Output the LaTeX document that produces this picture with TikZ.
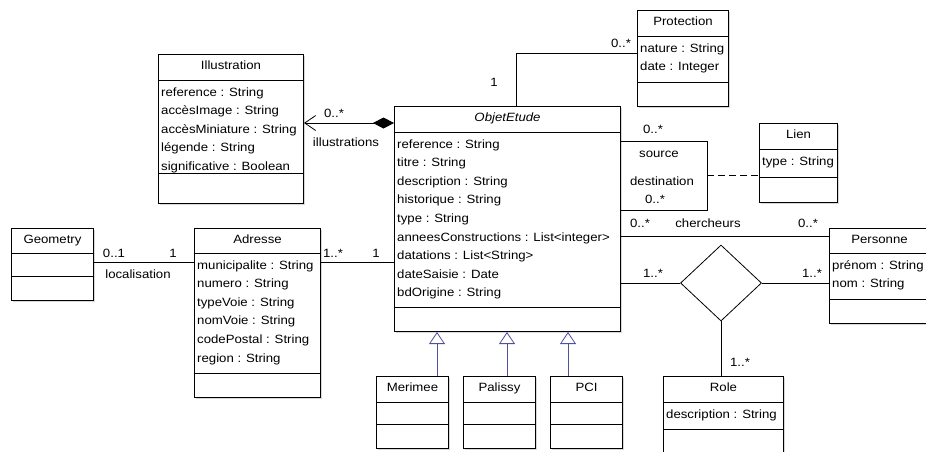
\documentclass[tikz,border=0pt]{standalone}
\usepackage{fontspec}
\setmainfont{Liberation Sans}[FakeStretch=1.1]
\usetikzlibrary{arrows.meta, shapes.geometric, shadows}
\definecolor{genblue}{RGB}{80,80,160}

\tikzset{
  umlbox/.style={draw, fill=white, line width=1pt, anchor=north west, inner sep=0pt,
    drop shadow={shadow xshift=1.5pt, shadow yshift=-1.5pt, fill=black!30}},
  title/.style={anchor=base, inner sep=0pt},
  attr/.style={anchor=base west, inner sep=0pt},
  mult/.style={anchor=base, inner sep=0pt},
  assoc/.style={line width=0.8pt},
  comp/.style={line width=0.8pt, {Diamond[length=21pt, width=11pt]}-{Straight Barb[length=11pt, width=15pt, line width=0.8pt]}},
  generalise/.style={draw=genblue, line width=0.8pt, -{Triangle[open, length=12pt, width=16pt, fill=white]}}
}

% name, x, y, width, title h, attribute h, operation h, title, attributes
\newcommand{\umlclass}[9]{%
  \node[umlbox, minimum width=#4, minimum height=#5+#6+#7] (#1) at (#2,#3) {};
  \draw[line width=1pt] ([yshift=-#5]#1.north west) -- ([yshift=-#5]#1.north east);
  \draw[line width=1pt] ([yshift=-#5-#6]#1.north west) -- ([yshift=-#5-#6]#1.north east);
  \node[title] (#1-t) at ([yshift=-15]#1.north) {#8};
  \foreach \a [count=\i] in {#9}
    \node[attr] (#1-a\i) at ([xshift=3, yshift=-#5-16-(\i-1)*18.6]#1.north west) {\a};
}

\begin{document}
\begin{tikzpicture}[x=1pt, y=-1pt, font=\fontsize{12}{14}\selectfont]
    \useasboundingbox[fill=white] (0,0) rectangle (926,451);

    %define the classes
    \umlclass{illus}{158}{54}{145}{26}{93}{30}{Illustration}{reference : String,accèsImage : String,accèsMiniature : String,légende : String,significative : Boolean}
    \umlclass{objet}{394}{106}{226}{26}{175}{24}{\itshape ObjetEtude}{reference : String,titre : String,description : String,historique : String,type : String,anneesConstructions : List<integer>,datations : List<String>,dateSaisie : Date,bdOrigine : String}
    \umlclass{prot}{637}{10}{91}{26}{46}{24}{Protection}{nature : String,date : Integer}
    \umlclass{lien}{759}{123}{78}{26}{28}{25}{Lien}{type : String}
    \umlclass{geom}{11}{228}{82}{25}{23}{24}{Geometry}{}
    \umlclass{adresse}{194}{228}{126}{25}{120}{24}{Adresse}{municipalite : String,numero : String,typeVoie : String,nomVoie : String,codePostal : String,region : String}
    \umlclass{pers}{829}{228}{100}{25}{46}{24}{Personne}{prénom : String,nom : String}
    \umlclass{role}{663}{376}{120}{26}{27}{30}{Role}{description : String}
    \umlclass{merimee}{376}{376}{72}{26}{22}{24}{Merimee}{}
    \umlclass{palissy}{463}{376}{72}{26}{22}{24}{Palissy}{}
    \umlclass{pci}{550}{376}{72}{26}{22}{24}{PCI}{}
    \node[draw, diamond, line width=0.8pt, minimum width=81, minimum height=76, inner sep=0pt] (rolelink) at (721,283) {};

    %define the links
    \coordinate (illusy) at (0,123);
    \coordinate (protbend) at (516,53);
    \coordinate (selfa) at (707,141);
    \coordinate (selfb) at (707,210);
    \coordinate (lienjoin) at (707,175);
    \coordinate (adry) at (0,262);
    \coordinate (chy) at (0,236);

    \draw[comp] (objet.west |- illusy) -- (illus.east |- illusy);
    \draw[assoc] (objet.north -| protbend) -- (protbend) -- (prot.west |- protbend);
    \draw[assoc] (objet.east |- selfa) -- (selfa) -- (selfb) -- (objet.east |- selfb);
    \draw[assoc, dash pattern=on 7pt off 4pt] (lienjoin) -- (lien.west |- lienjoin);
    \draw[assoc] (geom.east |- adry) -- (adresse.west |- adry);
    \draw[assoc] (adresse.east |- adry) -- (objet.west |- adry);
    \draw[assoc] (objet.east |- chy) -- (pers.west |- chy);
    \draw[assoc] (objet.east |- rolelink) -- (rolelink.west);
    \draw[assoc] (rolelink.east) -- (pers.west |- rolelink);
    \draw[assoc] (rolelink.south) -- (rolelink.south |- role.north);
    \foreach \sub/\gx in {merimee/437,palissy/507,pci/568}
      \draw[generalise] (\sub.north -| \gx,0) -- (objet.south -| \gx,0);

    %define the labels
    \node[mult] (m-illus) at (334,117) {0..*};
    \node[mult] (r-illus) at (346,146) {illustrations};
    \node[mult] (m-prot1) at (494,86) {1};
    \node[mult] (m-prot2) at (621,47) {0..*};
    \node[mult] (m-src) at (653,133) {0..*};
    \node[mult] (r-src) at (659,157) {source};
    \node[mult] (r-dst) at (662,185) {destination};
    \node[mult] (m-dst) at (655,203) {0..*};
    \node[mult] (m-ch1) at (640,227) {0..*};
    \node[mult] (r-ch) at (708,227) {chercheurs};
    \node[mult] (m-ch2) at (808,227) {0..*};
    \node[mult] (m-r1) at (653,277) {1..*};
    \node[mult] (m-r2) at (812,277) {1..*};
    \node[mult] (m-r3) at (740,366) {1..*};
    \node[mult] (m-geo) at (114,257) {0..1};
    \node[mult] (m-adr1) at (173,257) {1};
    \node[mult] (r-loc) at (138,278) {localisation};
    \node[mult] (m-adr2) at (333,257) {1..*};
    \node[mult] (m-obj) at (376,257) {1};
\end{tikzpicture}
\end{document}
